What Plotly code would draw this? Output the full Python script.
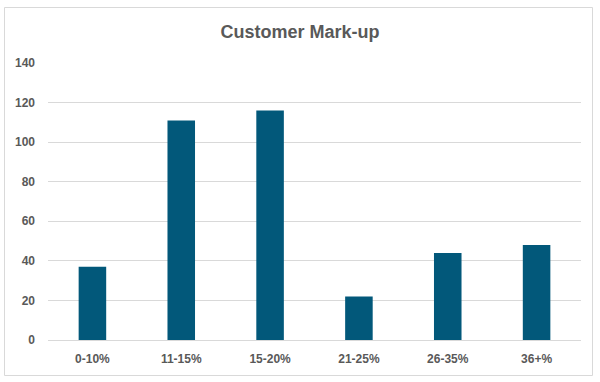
import plotly.graph_objects as go

categories = ["0-10%", "11-15%", "15-20%", "21-25%", "26-35%", "36+%"]
values = [37, 111, 116, 22, 44, 48]
y_ticks = [0, 20, 40, 60, 80, 100, 120, 140]

W, H = 600, 382
ml, mr, mt, mb = 48, 19, 63, 42
pw, ph = W - ml - mr, H - mt - mb

def px_x(x):
    return (x - ml) / pw

def px_y(y):
    return (H - mb - y) / ph

fig = go.Figure(go.Bar(x=categories, y=values, marker=dict(color="#02587A", line=dict(width=0)),
                       hoverinfo="skip"))

fig.update_layout(
    width=W, height=H,
    margin=dict(l=ml, r=mr, t=mt, b=mb),
    paper_bgcolor="white", plot_bgcolor="white",
    bargap=0.69,
    showlegend=False,
    title=dict(text="Customer Mark-up", x=0.5, xanchor="center", y=1 - 32 / H, yanchor="middle",
               font=dict(family="Liberation Sans, Arial, sans-serif", size=18, color="#595959", weight="bold")),
    font=dict(family="Liberation Sans, Arial, sans-serif", size=12, color="#595959"),
    xaxis=dict(showgrid=False, showline=False, ticks="", ticklabelstandoff=10,
               tickfont=dict(size=12, color="#595959", weight="bold")),
    yaxis=dict(range=[0, 140], tickvals=y_ticks, showgrid=True, gridcolor="#D9D9D9", gridwidth=1,
               zeroline=True, zerolinecolor="#D9D9D9", zerolinewidth=1, showline=False, ticks="",
               ticklabelstandoff=12, tickfont=dict(size=12, color="#595959", weight="bold")),
    shapes=[dict(type="rect", xref="paper", yref="paper",
                 x0=px_x(4.5), x1=px_x(592.5), y0=px_y(375.5), y1=px_y(7.5),
                 line=dict(color="#D9D9D9", width=1), fillcolor="rgba(0,0,0,0)", layer="below")],
)

fig.write_html("out.html", config={"displayModeBar": False},
               post_script="document.body.style.margin='0';document.body.style.overflow='hidden';")
